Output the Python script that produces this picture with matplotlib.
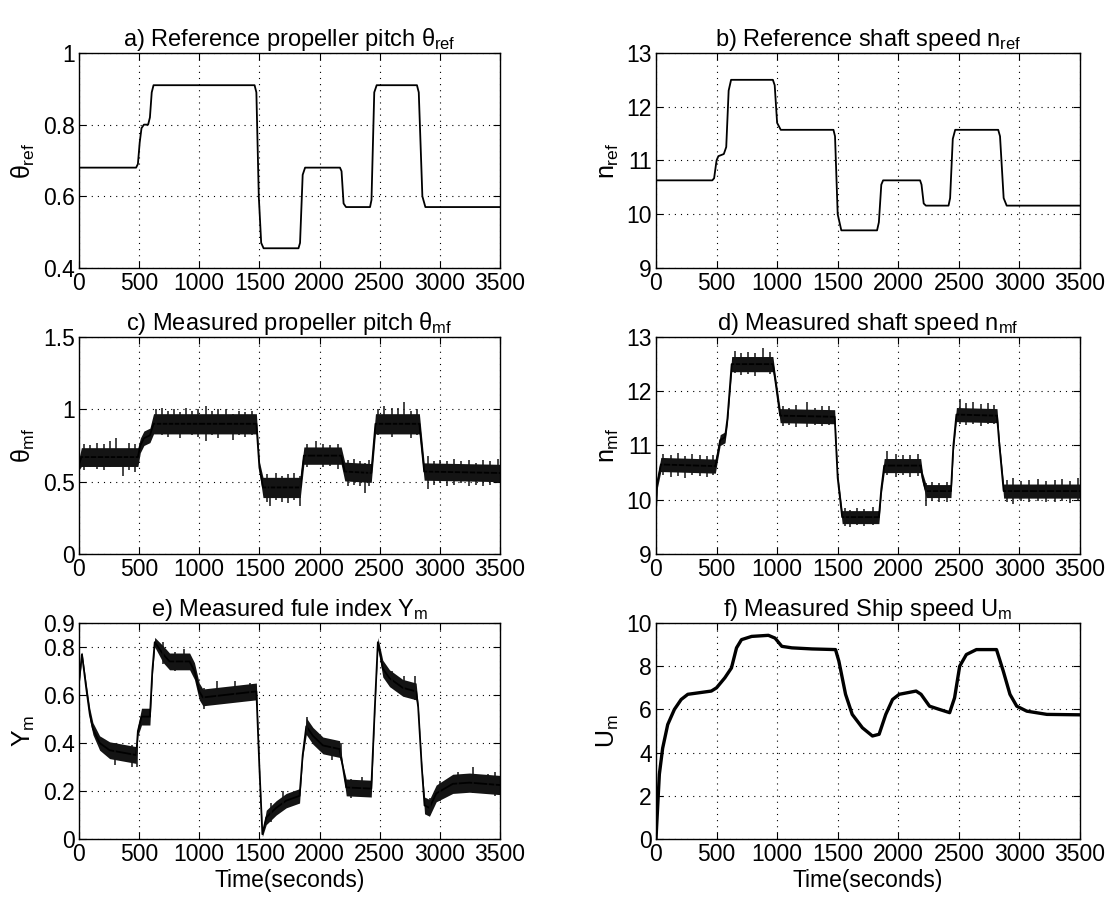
import matplotlib
matplotlib.use("Agg")
import matplotlib.pyplot as plt
import numpy as np

plt.rcParams['font.family'] = ['Liberation Sans', 'DejaVu Sans']
plt.rcParams['mathtext.fontset'] = 'custom'
plt.rcParams['mathtext.rm'] = 'Liberation Sans'
plt.rcParams['mathtext.it'] = 'Liberation Sans'
plt.rcParams['mathtext.bf'] = 'Liberation Sans:bold'

# ---------------- data ----------------
# a) reference propeller pitch
t_a = [0, 475, 490, 505, 520, 540, 575, 590, 605, 620, 1460, 1475, 1495, 1515, 1535,
       1825, 1838, 1860, 1880, 2170, 2183, 2200, 2220, 2420, 2432, 2455, 2475,
       2810, 2825, 2855, 2880, 3500]
theta_ref = [0.68, 0.68, 0.69, 0.75, 0.79, 0.80, 0.80, 0.82, 0.89, 0.91, 0.91, 0.89, 0.60, 0.47, 0.455,
             0.455, 0.47, 0.66, 0.68, 0.68, 0.67, 0.58, 0.57, 0.57, 0.59, 0.89, 0.91,
             0.91, 0.89, 0.60, 0.57, 0.57]

# b) reference shaft speed
t_b = [0, 465, 480, 500, 515, 560, 580, 600, 620, 965, 980, 1000, 1030, 1465, 1478, 1500, 1530,
       1825, 1840, 1860, 1875, 2180, 2192, 2210, 2228, 2415, 2428, 2450, 2470,
       2825, 2840, 2870, 2895, 3500]
n_ref = [10.63, 10.63, 10.67, 11.0, 11.08, 11.12, 11.25, 12.3, 12.5, 12.5, 12.4, 11.7, 11.57, 11.57, 11.45, 10.0, 9.7,
         9.7, 9.85, 10.55, 10.63, 10.63, 10.55, 10.2, 10.16, 10.16, 10.3, 11.4, 11.57,
         11.57, 11.45, 10.3, 10.16, 10.16]

# c) measured propeller pitch: mean trace and noise half-width
t_c = [0, 20, 490, 510, 540, 590, 620, 1475, 1500, 1530, 1840, 1870, 2180, 2210, 2430, 2465, 2830, 2870, 3500]
theta_mf = [0.62, 0.67, 0.67, 0.75, 0.80, 0.82, 0.90, 0.90, 0.60, 0.46, 0.46, 0.68, 0.68, 0.57, 0.56, 0.90, 0.90, 0.57, 0.56]
theta_mf_w = [0.04, 0.065, 0.065, 0.05, 0.05, 0.05, 0.07, 0.07, 0.04, 0.07, 0.07, 0.06, 0.06, 0.065, 0.065, 0.07, 0.07, 0.06, 0.06]
# visible noise spikes: time, low, high
c_spk_t = [40, 90, 150, 210, 260, 310, 365, 420, 470,
           640, 690, 740, 790, 840, 890, 940, 990, 1058, 1110, 1160, 1225, 1280, 1330, 1380, 1440,
           1560, 1585, 1640, 1690, 1737, 1790, 1835,
           1900, 1972, 2030, 2090, 2150,
           2240, 2290, 2340, 2374, 2410,
           2490, 2540, 2600, 2650, 2706, 2760, 2810,
           2900, 2950, 3000, 3060, 3120, 3180, 3240, 3300, 3360, 3420, 3480]
c_spk_lo = [0.58, 0.60, 0.59, 0.58, 0.60, 0.62, 0.54, 0.58, 0.57,
            0.84, 0.82, 0.81, 0.83, 0.80, 0.83, 0.82, 0.81, 0.78, 0.82, 0.80, 0.83, 0.79, 0.82, 0.81, 0.82,
            0.36, 0.33, 0.37, 0.36, 0.35, 0.37, 0.33,
            0.60, 0.62, 0.60, 0.61, 0.59,
            0.47, 0.48, 0.47, 0.42, 0.47,
            0.82, 0.83, 0.81, 0.84, 0.83, 0.80, 0.82,
            0.45, 0.48, 0.49, 0.47, 0.48, 0.49, 0.47, 0.48, 0.47, 0.48, 0.49]
c_spk_hi = [0.76, 0.75, 0.77, 0.76, 0.78, 0.80, 0.72, 0.77, 0.76,
            1.00, 1.01, 0.99, 1.00, 0.98, 1.01, 0.99, 1.00, 1.02, 0.99, 1.00, 1.00, 0.97, 0.99, 0.98, 0.99,
            0.55, 0.52, 0.56, 0.54, 0.55, 0.56, 0.54,
            0.76, 0.78, 0.76, 0.75, 0.76,
            0.65, 0.66, 0.64, 0.63, 0.65,
            1.00, 1.02, 1.01, 1.01, 1.05, 0.99, 1.00,
            0.68, 0.64, 0.65, 0.64, 0.66, 0.64, 0.65, 0.63, 0.65, 0.64, 0.66]

# d) measured shaft speed
t_d = [0, 10, 40, 490, 510, 530, 570, 590, 625, 965, 985, 1025, 1475, 1500, 1537, 1840, 1860, 1884,
       2185, 2200, 2230, 2435, 2455, 2480, 2815, 2835, 2870, 3500]
n_mf = [9.8, 10.3, 10.65, 10.62, 10.85, 11.1, 11.15, 11.5, 12.5, 12.5, 12.2, 11.55, 11.53, 10.4, 9.68, 9.68, 10.2, 10.63,
        10.63, 10.4, 10.16, 10.16, 11.0, 11.57, 11.55, 11.0, 10.16, 10.16]
n_mf_w = [0.05, 0.1, 0.13, 0.13, 0.1, 0.1, 0.1, 0.1, 0.14, 0.14, 0.1, 0.13, 0.13, 0.1, 0.12, 0.12, 0.1, 0.13,
          0.13, 0.1, 0.12, 0.12, 0.1, 0.13, 0.13, 0.1, 0.13, 0.13]
d_spk_t = [60, 120, 180, 240, 300, 360, 420, 470,
           650, 700, 760, 820, 886, 940,
           1050, 1100, 1160, 1250, 1310, 1370, 1430,
           1560, 1600, 1660, 1720, 1790,
           1910, 1980, 2040, 2100, 2160,
           2230, 2280, 2340, 2400,
           2510, 2560, 2620, 2680, 2740, 2790,
           2900, 2950, 3010, 3080, 3150, 3220, 3290, 3350, 3420, 3480]
d_spk_lo = [10.45, 10.42, 10.44, 10.40, 10.45, 10.43, 10.42, 10.46,
            12.33, 12.30, 12.32, 12.28, 12.35, 12.31,
            11.36, 11.38, 11.34, 11.35, 11.38, 11.36, 11.37,
            9.52, 9.50, 9.53, 9.52, 9.53,
            10.45, 10.42, 10.45, 10.42, 10.44,
            9.88, 9.98, 9.96, 9.95,
            11.40, 11.38, 11.40, 11.36, 11.39, 11.40,
            9.95, 9.93, 9.98, 9.96, 9.97, 9.95, 9.96, 9.98, 9.94, 9.97]
d_spk_hi = [10.85, 10.82, 10.86, 10.80, 10.84, 10.82, 10.80, 10.83,
            12.75, 12.70, 12.72, 12.70, 12.80, 12.72,
            11.72, 11.70, 11.74, 11.80, 11.70, 11.72, 11.73,
            9.84, 9.82, 9.85, 9.83, 9.86,
            10.90, 10.85, 10.83, 10.82, 10.84,
            10.30, 10.32, 10.30, 10.33,
            11.85, 11.78, 11.80, 11.76, 11.78, 11.75,
            10.36, 10.40, 10.34, 10.36, 10.38, 10.34, 10.37, 10.38, 10.35, 10.40]

# e) measured fuel index
t_e = [0, 25, 60, 90, 116, 172, 255, 476, 490, 520, 590, 610, 630, 700, 753, 920, 960, 1000, 1030,
       1475, 1500, 1525, 1557, 1640, 1723, 1834, 1860, 1890, 1945, 2028, 2166, 2194, 2222,
       2430, 2460, 2485, 2526, 2582, 2692, 2803, 2820, 2850, 2873, 2914, 2970, 3108, 3246, 3500]
Y_m = [0.65, 0.77, 0.63, 0.52, 0.46, 0.40, 0.37, 0.35, 0.45, 0.51, 0.51, 0.70, 0.82, 0.77, 0.74, 0.74, 0.70, 0.615, 0.59,
       0.615, 0.30, 0.02, 0.09, 0.13, 0.16, 0.18, 0.35, 0.47, 0.43, 0.39, 0.375, 0.30, 0.215,
       0.21, 0.55, 0.82, 0.71, 0.67, 0.63, 0.615, 0.55, 0.30, 0.14, 0.13, 0.19, 0.23, 0.235, 0.225]
Y_m_w = [0.01, 0.01, 0.02, 0.025, 0.025, 0.03, 0.035, 0.035, 0.02, 0.035, 0.035, 0.02, 0.02, 0.035, 0.035, 0.035, 0.035, 0.035, 0.035,
         0.035, 0.01, 0.01, 0.03, 0.03, 0.03, 0.03, 0.01, 0.035, 0.035, 0.035, 0.035, 0.01, 0.035,
         0.035, 0.01, 0.02, 0.035, 0.035, 0.035, 0.035, 0.01, 0.01, 0.035, 0.035, 0.035, 0.04, 0.04, 0.04]
e_spk_t = [300, 440, 480, 700, 800, 870, 1040, 1150, 1300, 1420, 1600, 1700, 1900, 2100, 2180,
           2260, 2350, 2600, 2700, 2790, 2920, 3000, 3150, 3280, 3400, 3460]
e_spk_lo = [0.31, 0.30, 0.30, 0.73, 0.70, 0.71, 0.54, 0.57, 0.58, 0.58, 0.07, 0.12, 0.44, 0.33, 0.34,
            0.17, 0.18, 0.63, 0.60, 0.58, 0.10, 0.16, 0.19, 0.19, 0.19, 0.18]
e_spk_hi = [0.40, 0.39, 0.38, 0.82, 0.78, 0.79, 0.63, 0.66, 0.66, 0.65, 0.15, 0.20, 0.51, 0.41, 0.40,
            0.25, 0.26, 0.70, 0.68, 0.68, 0.17, 0.24, 0.28, 0.30, 0.27, 0.28]

# f) measured ship speed
t_f = [0, 28, 55, 97, 152, 208, 263, 457, 500, 568, 623, 665, 706, 790, 928, 983, 1039, 1122, 1288, 1482,
       1510, 1565, 1620, 1704, 1787, 1842, 1897, 1953, 2008, 2147, 2188, 2258, 2340, 2424, 2465, 2507,
       2562, 2645, 2811, 2867, 2922, 2978, 3061, 3227, 3500]
U_m = [0, 3.0, 4.2, 5.3, 6.0, 6.46, 6.7, 6.85, 7.0, 7.46, 7.92, 8.85, 9.23, 9.38, 9.43, 9.3, 8.92, 8.85, 8.8, 8.77,
       8.23, 6.7, 5.77, 5.15, 4.77, 4.85, 5.77, 6.46, 6.7, 6.85, 6.7, 6.15, 6.0, 5.85, 6.54, 8.0,
       8.54, 8.77, 8.77, 7.77, 6.7, 6.15, 5.92, 5.77, 5.75]

x_ticks = [0, 500, 1000, 1500, 2000, 2500, 3000, 3500]

# ---------------- figure ----------------
fig = plt.figure(figsize=(11.12, 9.02), dpi=100)
FS = 16.5
TFS = 17
YFS = 18
left_x, left_w = 0.0710, 0.3786
right_x, right_w = 0.5899, 0.3813
rows = [(0.7029, 0.2384), (0.3858, 0.2406), (0.0698, 0.2395)]

def make_ax(col, row):
    x0, w = (left_x, left_w) if col == 0 else (right_x, right_w)
    b, h = rows[row]
    ax = fig.add_axes([x0, b, w, h])
    ax.set_axisbelow(True)
    ax.set_xlim(0, 3500)
    ax.set_xticks(x_ticks)
    ax.tick_params(direction='in', top=True, right=True, labelsize=FS, length=5, width=0.8, pad=3)
    ax.grid(True, color='black', linestyle=(0, (1, 4.5)), linewidth=0.8)
    for s in ax.spines.values():
        s.set_linewidth(1.0)
    return ax

def ttl(ax, s):
    ax.set_title(s, fontsize=TFS, pad=5)

def band(ax, t, c, w, st, slo, shi):
    c = np.array(c)
    w = np.array(w)
    ax.fill_between(t, c - w, c + w, color='#141414', lw=0, zorder=2)
    ax.plot(t, c, color='black', lw=1.3, zorder=3)
    ax.vlines(st, slo, shi, color='#141414', lw=1.1, zorder=3)

LW = 1.3
# a
ax = make_ax(0, 0)
ax.plot(t_a, theta_ref, color='black', lw=LW)
ax.set_ylim(0.4, 1.0)
ax.set_yticks([0.4, 0.6, 0.8, 1.0])
ax.set_yticklabels(['0.4', '0.6', '0.8', '1'])
ax.set_ylabel(r'$\theta_{\rm ref}$', fontsize=YFS)
ttl(ax, r'a) Reference propeller pitch $\theta_{\rm ref}$')

# b
ax = make_ax(1, 0)
ax.plot(t_b, n_ref, color='black', lw=LW)
ax.set_ylim(9, 13)
ax.set_yticks([9, 10, 11, 12, 13])
ax.set_ylabel(r'$n_{\rm ref}$', fontsize=YFS)
ttl(ax, r'b) Reference shaft speed $n_{\rm ref}$')

# c
ax = make_ax(0, 1)
band(ax, t_c, theta_mf, theta_mf_w, c_spk_t, c_spk_lo, c_spk_hi)
ax.set_ylim(0, 1.5)
ax.set_yticks([0, 0.5, 1.0, 1.5])
ax.set_yticklabels(['0', '0.5', '1', '1.5'])
ax.set_ylabel(r'$\theta_{\rm mf}$', fontsize=YFS)
ttl(ax, r'c) Measured propeller pitch $\theta_{\rm mf}$')

# d
ax = make_ax(1, 1)
band(ax, t_d, n_mf, n_mf_w, d_spk_t, d_spk_lo, d_spk_hi)
ax.set_ylim(9, 13)
ax.set_yticks([9, 10, 11, 12, 13])
ax.set_ylabel(r'$n_{\rm mf}$', fontsize=YFS)
ttl(ax, r'd) Measured shaft speed $n_{\rm mf}$')

# e
ax = make_ax(0, 2)
band(ax, t_e, Y_m, Y_m_w, e_spk_t, e_spk_lo, e_spk_hi)
ax.set_ylim(0, 0.9)
ax.set_yticks([0, 0.2, 0.4, 0.6, 0.8, 0.9])
ax.set_yticklabels(['0', '0.2', '0.4', '0.6', '0.8', '0.9'])
ax.set_ylabel(r'$Y_{\rm m}$', fontsize=YFS)
ax.set_xlabel('Time(seconds)', fontsize=FS, labelpad=2)
ttl(ax, r'e) Measured fule index $Y_{\rm m}$')

# f
ax = make_ax(1, 2)
ax.plot(t_f, U_m, color='black', lw=2.4)
ax.set_ylim(0, 10)
ax.set_yticks([0, 2, 4, 6, 8, 10])
ax.set_ylabel(r'$U_{\rm m}$', fontsize=YFS)
ax.set_xlabel('Time(seconds)', fontsize=FS, labelpad=2)
ttl(ax, r'f) Measured Ship speed $U_{\rm m}$')

fig.savefig('out.png', dpi=100)
